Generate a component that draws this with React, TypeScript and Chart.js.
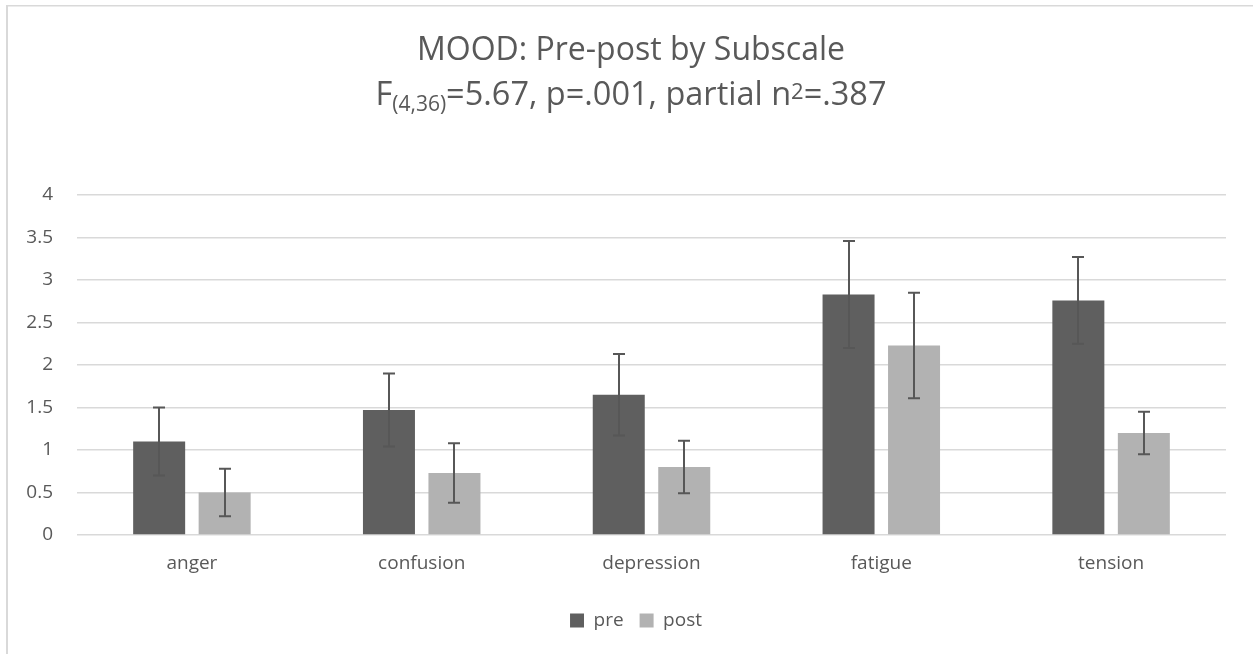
import React, { useEffect, useRef } from "react";
import { Chart, registerables } from "chart.js";

Chart.register(...registerables);

const categories = ["anger", "confusion", "depression", "fatigue", "tension"];
const seriesNames = ["pre", "post"];
const preValues = [1.1, 1.47, 1.65, 2.83, 2.76];
const postValues = [0.5, 0.73, 0.8, 2.23, 1.2];
const preErrors = [0.4, 0.43, 0.48, 0.63, 0.51];
const postErrors = [0.28, 0.35, 0.31, 0.62, 0.25];
const yTicks = [0, 0.5, 1, 1.5, 2, 2.5, 3, 3.5, 4];
const titleLine1 = "MOOD: Pre-post by Subscale";
const titleLine2Parts: { text: string; kind: "normal" | "sub" | "sup" }[] = [
  { text: "F", kind: "normal" },
  { text: "(4,36)", kind: "sub" },
  { text: "=5.67, p=.001, partial n", kind: "normal" },
  { text: "2", kind: "sup" },
  { text: "=.387", kind: "normal" },
];

const FONT = "'Open Sans', 'Noto Sans', sans-serif";
const TEXT_COLOR = "#595959";
const GRID_COLOR = "#d9d9d9";
const PRE_COLOR = "#5f5f5f";
const POST_COLOR = "#b2b2b2";
const ERR_COLOR = "#575757";

const errorSets = [preErrors, postErrors];

const framePlugin = {
  id: "frame",
  beforeDraw(chart: any) {
    const ctx = chart.ctx;
    ctx.save();
    ctx.fillStyle = "#ffffff";
    ctx.fillRect(0, 0, chart.width, chart.height);
    ctx.fillStyle = GRID_COLOR;
    ctx.fillRect(6, 5, 2, chart.height - 5);
    ctx.fillRect(6, 5, chart.width - 6, 1.5);
    ctx.restore();
  },
};

const legendShiftPlugin = {
  id: "legendShift",
  afterLayout(chart: any) {
    const lg = chart.legend;
    if (lg) {
      lg.left += 23;
      lg.right += 23;
    }
  },
};

const errorBarPlugin = {
  id: "errorBars",
  afterDatasetsDraw(chart: any) {
    const ctx = chart.ctx;
    const yScale = chart.scales.y;
    ctx.save();
    ctx.strokeStyle = ERR_COLOR;
    ctx.lineWidth = 2;
    chart.data.datasets.forEach((ds: any, i: number) => {
      const meta = chart.getDatasetMeta(i);
      const errs = errorSets[i];
      meta.data.forEach((bar: any, j: number) => {
        const v = ds.data[j];
        const e = errs[j];
        const x = Math.round(bar.x);
        const yT = yScale.getPixelForValue(v + e);
        const yB = yScale.getPixelForValue(v - e);
        const half = 6;
        ctx.beginPath();
        ctx.moveTo(x, yT);
        ctx.lineTo(x, yB);
        ctx.moveTo(x - half, yT);
        ctx.lineTo(x + half, yT);
        ctx.moveTo(x - half, yB);
        ctx.lineTo(x + half, yB);
        ctx.stroke();
      });
    });
    ctx.restore();
  },
};

const titlePlugin = {
  id: "richTitle",
  afterDraw(chart: any) {
    const ctx = chart.ctx;
    const cx = 631;
    const mainFont = `32.5px ${FONT}`;
    const subFont = `21px ${FONT}`;
    const supFont = `22px ${FONT}`;
    const fontFor = (k: string) => (k === "normal" ? mainFont : k === "sub" ? subFont : supFont);
    ctx.save();
    ctx.fillStyle = TEXT_COLOR;
    ctx.textBaseline = "alphabetic";
    ctx.textAlign = "left";
    ctx.font = `32px ${FONT}`;
    const w1 = ctx.measureText(titleLine1).width;
    ctx.fillText(titleLine1, cx - w1 / 2, 60);
    let total = 0;
    const widths = titleLine2Parts.map((p) => {
      ctx.font = fontFor(p.kind);
      const w = ctx.measureText(p.text).width;
      total += w;
      return w;
    });
    let x = cx - total / 2;
    titleLine2Parts.forEach((p, i) => {
      ctx.font = fontFor(p.kind);
      const baseline = p.kind === "sub" ? 111 : p.kind === "sup" ? 99 : 105;
      ctx.fillText(p.text, x, baseline);
      x += widths[i];
    });
    ctx.restore();
  },
};

export default function App() {
  const canvasRef = useRef<HTMLCanvasElement | null>(null);

  useEffect(() => {
    if (!canvasRef.current) return;
    const chart = new Chart(canvasRef.current, {
      type: "bar",
      data: {
        labels: categories,
        datasets: [
          {
            label: seriesNames[0],
            data: preValues,
            backgroundColor: PRE_COLOR,
            borderWidth: 0,
            categoryPercentage: 0.57,
            barPercentage: 0.794,
          },
          {
            label: seriesNames[1],
            data: postValues,
            backgroundColor: POST_COLOR,
            borderWidth: 0,
            categoryPercentage: 0.57,
            barPercentage: 0.794,
          },
        ],
      },
      options: {
        responsive: false,
        animation: false,
        layout: { padding: { left: 0, right: 27, top: 195, bottom: 14 } },
        plugins: {
          title: { display: false },
          tooltip: { enabled: false },
          legend: {
            position: "bottom",
            labels: {
              boxWidth: 14,
              boxHeight: 14,
              padding: 16,
              color: TEXT_COLOR,
              font: { family: FONT, size: 19 },
            },
          },
        },
        scales: {
          x: {
            grid: { display: false, drawTicks: false },
            border: { display: false },
            ticks: {
              color: TEXT_COLOR,
              font: { family: FONT, size: 19 },
              padding: 17,
            },
            afterFit: (scale: any) => {
              scale.height = 60;
            },
          },
          y: {
            min: 0,
            max: 4,
            afterBuildTicks: (scale: any) => {
              scale.ticks = yTicks.map((v) => ({ value: v }));
            },
            grid: { color: GRID_COLOR, lineWidth: 1.5, drawTicks: false },
            border: { display: false },
            ticks: {
              color: TEXT_COLOR,
              font: { family: FONT, size: 19 },
              padding: 24,
              callback: (v: any) => String(v),
            },
            afterFit: (scale: any) => {
              scale.width = 77;
            },
          },
        },
      },
      plugins: [framePlugin, legendShiftPlugin, errorBarPlugin, titlePlugin],
    });
    return () => chart.destroy();
  }, []);

  return (
    <div style={{ position: "fixed", left: 0, top: 0, width: 1253, height: 654 }}>
      <canvas ref={canvasRef} width={1253} height={654} />
    </div>
  );
}
